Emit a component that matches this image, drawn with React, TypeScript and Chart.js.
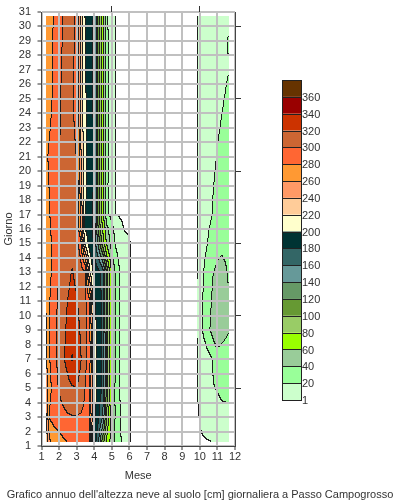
import React, { useEffect, useRef } from 'react';
import { Chart, registerables } from 'chart.js';

Chart.register(...registerables);

const FONT = "'Liberation Sans', Arial, Helvetica, sans-serif";
const TEXT_COLOR = '#333333';

const CAPTION = "Grafico annuo dell'altezza neve al suolo [cm] giornaliera a Passo Campogrosso";
const X_TITLE = 'Mese';
const Y_TITLE = 'Giorno';

// axes
const MONTH_MIN = 1;
const MONTH_MAX = 12;
const DAY_MIN = 1;
const DAY_MAX = 31;
const TOP_MARKS = [5, 10];
const RIGHT_MARKS = [5, 10, 15, 20, 25, 30];

// contour levels (cm) and their fill colours
const LEVELS = [1, 20, 40, 60, 80, 100, 120, 140, 160, 180, 200, 220, 240, 260, 280, 300, 320, 340, 360];
const LEVEL_COLORS = [
  '#CCFFCC', '#99FF99', '#99CC99', '#99FF00', '#99CC66', '#669933', '#669966', '#669999', '#336666',
  '#003333', '#FFFFCC', '#FFCC99', '#FF9966', '#FF9933', '#FF6633', '#CC6633', '#CC3300', '#990000', '#663300',
];

// grid rows (day of month) shared by both seasons
const DAY_ROWS = [1.3, 3, 5, 7, 9, 11, 13, 15, 16, 17, 19, 21, 23, 25, 27, 29, 30.7];

// winter / spring block (month positions)
const WINTER_COLS = [1.25, 1.5, 1.75, 2.0, 2.25, 2.5, 2.75, 3.0, 3.25, 3.5, 3.75, 4.0, 4.25, 4.5, 4.75, 5.0, 5.25, 5.5, 5.75, 6.12, 6.2];
const winterDay01 = [222, 258, 268, 273, 277, 281, 287, 292, 294, 292, 284, 195, 165, 110, 75, 52, 36, 23, 9, 0.8, 0];
const winterDay03 = [232, 283, 288, 292, 295, 298, 299, 299, 298, 296, 290, 210, 185, 160, 95, 55, 37, 21, 9, 0.8, 0];
const winterDay05 = [245, 275, 290, 301, 308, 313, 318, 321, 313, 300, 280, 215, 192, 178, 110, 58, 36, 18, 9, 0.8, 0];
const winterDay07 = [252, 280, 295, 305, 317, 327, 342, 333, 322, 306, 292, 218, 192, 178, 110, 59, 37, 18, 9, 0.8, 0];
const winterDay09 = [255, 282, 295, 304, 314, 324, 332, 328, 318, 305, 290, 212, 191, 177, 110, 60, 38, 19, 9, 0.9, 0];
const winterDay11 = [258, 280, 294, 303, 311, 320, 326, 322, 314, 305, 285, 205, 190, 176, 110, 60, 38, 19, 9, 0.9, 0];
const winterDay13 = [260, 276, 288, 300, 307, 314, 321, 316, 309, 301, 225, 192, 186, 174, 110, 60, 36, 18, 9, 0.9, 0];
const winterDay15 = [265, 276, 287, 299, 306, 311, 314, 308, 290, 215, 192, 178, 135, 90, 55, 32, 17, 9, 4, 0.5, 0];
const winterDay16 = [268, 278, 289, 299, 306, 311, 313, 305, 260, 200, 190, 177, 120, 80, 45, 28, 12, 3, 0.3, 0, 0];
const winterDay17 = [270, 280, 290, 300, 306, 311, 312, 304, 262, 200, 190, 176, 110, 68, 24, 14, 0.5, 0, 0, 0, 0];
const winterDay19 = [272, 282, 291, 300, 306, 310, 310, 302, 250, 205, 192, 178, 112, 70, 23, 10, 0.6, 0, 0, 0, 0];
const winterDay21 = [274, 285, 290, 299, 306, 310, 309, 300, 245, 204, 192, 178, 113, 72, 24, 10, 0.6, 0, 0, 0, 0];
const winterDay23 = [268, 279, 286, 297, 305, 309, 307, 295, 240, 203, 191, 178, 113, 72, 24, 10, 0.6, 0, 0, 0, 0];
const winterDay25 = [269, 276, 284, 296, 305, 310, 305, 287, 236, 203, 191, 177, 113, 72, 24, 10, 0.6, 0, 0, 0, 0];
const winterDay27 = [270, 275, 282, 294, 303, 311, 308, 289, 236, 202, 190, 177, 112, 72, 24, 10, 0.6, 0, 0, 0, 0];
const winterDay29 = [271, 276, 282, 292, 302, 311, 311, 292, 238, 201, 190, 177, 112, 72, 24, 10, 0.6, 0, 0, 0, 0];
const winterDay31 = [272, 276, 281, 291, 300, 310, 312, 290, 235, 200, 190, 178, 110, 70, 22, 10, 0.6, 0, 0, 0, 0];

// autumn block (month positions)
const AUTUMN_COLS = [9.85, 10.0, 10.25, 10.5, 10.75, 11.0, 11.25, 11.5, 11.65];
const autumnDay01 = [0, 0, 0.2, 0.6, 1.4, 4, 6, 8, 9];
const autumnDay03 = [0, 1.2, 4, 7, 10, 13, 15, 16, 17];
const autumnDay05 = [0, 3, 5, 10, 19, 21, 24, 24, 23];
const autumnDay07 = [0, 4, 8, 14, 20.5, 26, 28, 27, 25];
const autumnDay09 = [0, 10, 24, 36, 46, 63, 50, 45, 42];
const autumnDay11 = [0, 9, 23, 34, 42, 50, 52, 47, 42];
const autumnDay13 = [0, 8, 20.5, 30, 39, 44, 46, 42, 38];
const autumnDay15 = [0, 6, 14, 21, 27, 33, 36, 35, 32];
const autumnDay16 = [0, 6, 12, 19, 24, 30, 32, 32, 31];
const autumnDay17 = [0, 5, 10, 15, 20.5, 26, 29, 31, 31];
const autumnDay19 = [0, 5, 9, 14, 19, 23, 26, 29, 30];
const autumnDay21 = [0, 5, 8, 12, 16, 20.5, 24, 27, 28];
const autumnDay23 = [0, 4, 7, 10, 14, 18, 21, 24, 25];
const autumnDay25 = [0, 4, 6, 9, 12, 15, 18, 21, 23];
const autumnDay27 = [0, 3, 6, 8, 11, 13, 15, 18, 19.5];
const autumnDay29 = [0, 2, 6, 8, 10, 13, 15, 18, 21];
const autumnDay31 = [0, 2, 6, 8, 10, 12, 14, 16, 17];

const WINTER_ROWS = [
  winterDay01, winterDay03, winterDay05, winterDay07, winterDay09, winterDay11, winterDay13, winterDay15, winterDay16,
  winterDay17, winterDay19, winterDay21, winterDay23, winterDay25, winterDay27, winterDay29, winterDay31,
];
const AUTUMN_ROWS = [
  autumnDay01, autumnDay03, autumnDay05, autumnDay07, autumnDay09, autumnDay11, autumnDay13, autumnDay15, autumnDay16,
  autumnDay17, autumnDay19, autumnDay21, autumnDay23, autumnDay25, autumnDay27, autumnDay29, autumnDay31,
];

const FIELDS = [
  { cols: WINTER_COLS, rows: WINTER_ROWS },
  { cols: AUTUMN_COLS, rows: AUTUMN_ROWS },
];

// colour bar legend placement
const BAR = { left: 282, top: 80, width: 19, height: 320 };

function hexToRgb(h: string): number[] {
  const n = parseInt(h.slice(1), 16);
  return [(n >> 16) & 255, (n >> 8) & 255, n & 255];
}
const RGB = LEVEL_COLORS.map(hexToRgb);
const LINE_RGB = [30, 30, 30];

function levelOf(v: number): number {
  if (!(v >= LEVELS[0])) return -1;
  let k = 0;
  while (k + 1 < LEVELS.length && v >= LEVELS[k + 1]) k++;
  return k;
}

function seg(arr: number[], v: number): number {
  let i = 0;
  while (i < arr.length - 2 && v > arr[i + 1]) i++;
  return i;
}

function sample(cols: number[], rows: number[][], x: number, d: number): number {
  const i = seg(cols, x);
  const j = seg(DAY_ROWS, d);
  const tx = Math.min(1, Math.max(0, (x - cols[i]) / (cols[i + 1] - cols[i])));
  const ty = Math.min(1, Math.max(0, (d - DAY_ROWS[j]) / (DAY_ROWS[j + 1] - DAY_ROWS[j])));
  const a = rows[j][i], b = rows[j][i + 1], c = rows[j + 1][i], e = rows[j + 1][i + 1];
  return (a * (1 - tx) + b * tx) * (1 - ty) + (c * (1 - tx) + e * tx) * ty;
}

const contourPlugin = {
  id: 'contourField',
  beforeDraw(chart: any) {
    const { ctx, scales } = chart;
    const xs = scales.x, ys = scales.y;
    for (const f of FIELDS) {
      const x0 = Math.round(xs.getPixelForValue(f.cols[0]));
      const x1 = Math.round(xs.getPixelForValue(f.cols[f.cols.length - 1]));
      const y0 = Math.round(ys.getPixelForValue(DAY_ROWS[DAY_ROWS.length - 1]));
      const y1 = Math.round(ys.getPixelForValue(DAY_ROWS[0]));
      const w = x1 - x0, h = y1 - y0;
      if (w <= 0 || h <= 0) continue;
      const lv = new Int16Array(w * h);
      for (let j = 0; j < h; j++) {
        const d = ys.getValueForPixel(y0 + j + 0.5);
        for (let i = 0; i < w; i++) {
          const x = xs.getValueForPixel(x0 + i + 0.5);
          lv[j * w + i] = levelOf(sample(f.cols, f.rows, x, d));
        }
      }
      const off = document.createElement('canvas');
      off.width = w; off.height = h;
      const octx = off.getContext('2d')!;
      const img = octx.createImageData(w, h);
      for (let j = 0; j < h; j++) {
        for (let i = 0; i < w; i++) {
          const idx = j * w + i;
          const k = lv[idx];
          const edge = (i + 1 < w && lv[idx + 1] !== k) || (j + 1 < h && lv[idx + w] !== k);
          let c: number[] | null = null;
          if (edge) c = LINE_RGB;
          else if (k >= 0) c = RGB[k];
          if (c) {
            img.data[idx * 4] = c[0];
            img.data[idx * 4 + 1] = c[1];
            img.data[idx * 4 + 2] = c[2];
            img.data[idx * 4 + 3] = 255;
          }
        }
      }
      octx.putImageData(img, 0, 0);
      ctx.drawImage(off, x0, y0);
    }
  },
};

const colorBarPlugin = {
  id: 'colorBar',
  afterDraw(chart: any) {
    const ctx = chart.ctx;
    const n = LEVEL_COLORS.length;
    const bh = BAR.height / n;
    ctx.save();
    for (let i = 0; i < n; i++) {
      const y = BAR.top + i * bh;
      ctx.fillStyle = LEVEL_COLORS[n - 1 - i];
      ctx.fillRect(BAR.left, y, BAR.width, bh);
    }
    ctx.strokeStyle = '#222';
    ctx.lineWidth = 1;
    for (let i = 0; i < n; i++) {
      const y = Math.round(BAR.top + i * bh) + 0.5;
      const y2 = Math.round(BAR.top + (i + 1) * bh) + 0.5;
      ctx.strokeRect(BAR.left + 0.5, y, BAR.width, y2 - y);
    }
    ctx.fillStyle = TEXT_COLOR;
    ctx.font = `11px ${FONT}`;
    ctx.textAlign = 'left';
    ctx.textBaseline = 'middle';
    const labels = LEVELS.slice().reverse();
    labels.forEach((v, i) => {
      ctx.fillText(String(v), BAR.left + BAR.width + 1, BAR.top + (i + 1) * bh + 1);
    });
    ctx.restore();
  },
};

export default function App() {
  const ref = useRef<HTMLCanvasElement | null>(null);
  useEffect(() => {
    if (!ref.current) return;
    const tickFont = { family: FONT, size: 11, lineHeight: 1 };
    const chart = new Chart(ref.current, {
      type: 'scatter',
      data: { datasets: [{ data: [], pointRadius: 0 }] },
      options: {
        animation: false,
        responsive: false,
        devicePixelRatio: 1,
        layout: { padding: 0, autoPadding: false },
        plugins: {
          legend: { display: false },
          tooltip: { enabled: false },
          title: {
            display: true,
            position: 'bottom',
            text: CAPTION,
            color: TEXT_COLOR,
            font: { family: FONT, size: 11, weight: 'normal' },
            padding: { top: 2, bottom: 0.6 },
          },
        },
        scales: {
          x: {
            type: 'linear',
            position: 'bottom',
            min: MONTH_MIN,
            max: MONTH_MAX,
            ticks: { stepSize: 1, autoSkip: false, maxRotation: 0, padding: 1, color: TEXT_COLOR, font: tickFont },
            grid: { color: '#c0c0c0', lineWidth: 2, tickColor: '#333', tickLength: 4, tickWidth: 1 },
            border: { display: true, color: '#444', width: 1 },
            title: { display: true, text: X_TITLE, color: TEXT_COLOR, font: { family: FONT, size: 11 }, padding: { top: 0, bottom: 4 } },
            afterFit: (s: any) => { s.height = 40.2; },
          },
          y: {
            type: 'linear',
            position: 'left',
            min: DAY_MIN,
            max: DAY_MAX,
            ticks: { stepSize: 1, autoSkip: false, padding: 6.5, color: TEXT_COLOR, font: tickFont },
            grid: { color: '#c0c0c0', lineWidth: 2, tickColor: '#333', tickLength: 4, tickWidth: 1 },
            border: { display: true, color: '#444', width: 1 },
            title: { display: true, text: Y_TITLE, color: TEXT_COLOR, font: { family: FONT, size: 11 }, padding: { top: 2, bottom: 0 } },
            afterFit: (s: any) => { s.width = 41.5; },
          },
          x2: {
            type: 'linear',
            position: 'top',
            min: MONTH_MIN,
            max: MONTH_MAX,
            afterBuildTicks: (s: any) => { s.ticks = TOP_MARKS.map((v) => ({ value: v })); },
            ticks: { display: false },
            grid: { drawOnChartArea: false, drawTicks: true, tickLength: 6, tickColor: '#333', tickWidth: 1 },
            border: { display: false },
            afterFit: (s: any) => { s.height = 6; },
          },
          y2: {
            type: 'linear',
            position: 'right',
            min: DAY_MIN,
            max: DAY_MAX,
            afterBuildTicks: (s: any) => { s.ticks = RIGHT_MARKS.map((v) => ({ value: v })); },
            ticks: { display: false },
            grid: { drawOnChartArea: false, drawTicks: true, tickLength: 6, tickColor: '#333', tickWidth: 1 },
            border: { display: true, color: '#444', width: 1 },
            afterFit: (s: any) => { s.width = 165; },
          },
        },
      },
      plugins: [contourPlugin, colorBarPlugin],
    } as any);
    return () => chart.destroy();
  }, []);
  return (
    <div style={{ position: 'absolute', left: 0, top: 0, width: 400, height: 502, background: '#fff' }}>
      <canvas ref={ref} width={400} height={502} style={{ display: 'block' }} />
    </div>
  );
}
